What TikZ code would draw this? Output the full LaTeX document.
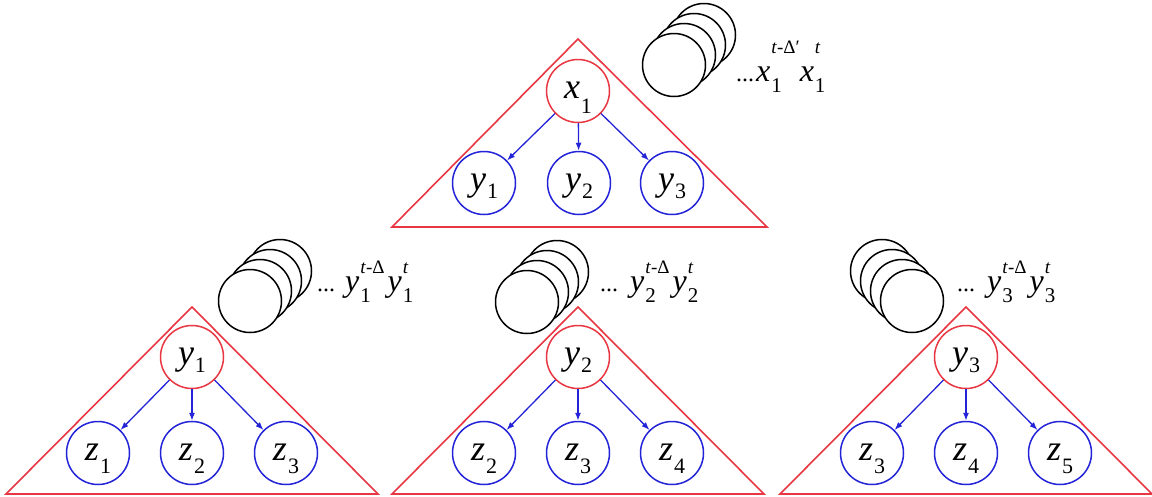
\documentclass[tikz,border=0pt]{standalone}
\usepackage{fontspec}
\setmainfont{Liberation Serif}
\usetikzlibrary{arrows.meta}
\definecolor{treered}{RGB}{232,55,66}
\definecolor{leafblue}{RGB}{35,35,215}
% variable with subscript, inside a circle
\newcommand{\nvar}[3]{\textit{#1}\kern1pt\raisebox{-#3}{\fontsize{22}{24}\selectfont #2}}
% variable with subscript and superscript, beside a history stack
\newcommand{\hvar}[4][18pt]{\textit{#2}\kern1pt\rlap{\raisebox{-11pt}{\fontsize{21}{23}\selectfont #3}}\raisebox{#1}{\fontsize{19}{21}\selectfont #4}}
\newcommand{\hdots}{{\fontsize{24}{26}\selectfont ...}}
\tikzset{
  >=Latex,
  edgearrow/.style={-{Latex[length=8pt,width=6pt]},draw=leafblue,line width=1.3pt},
  rootnode/.style={circle,draw=treered,line width=1.5pt,minimum size=63pt,inner sep=0pt,
    text height=14pt,text depth=0pt,font=\fontsize{36}{40}\selectfont},
  leafnode/.style={rootnode,draw=leafblue},
  histnode/.style={circle,draw=black,fill=white,line width=1.5pt,minimum size=63pt,inner sep=0pt},
  treeedge/.style={draw=treered,line width=1.6pt},
  histlabel/.style={anchor=base west,inner sep=0pt,font=\fontsize{32}{36}\selectfont}
}
\begin{document}
\begin{tikzpicture}[x=1pt,y=-1pt]
    \useasboundingbox (0,0) rectangle (1152,496);
    % upper tree
    \draw[treeedge] (578,39) -- (392,227) -- (767,227) -- cycle;
    \node[rootnode] (x1) at (578,91) {\nvar{x}{1}{15pt}};
    \foreach \x/\i in {484/1,579/2,672/3} {
        \node[leafnode] (y\i) at (\x,183) {\nvar{y}{\i}{8pt}};
        \draw[edgearrow] (x1) -- (y\i);
    }
    % lower trees
    \foreach \cx/\r in {192/1,578/2,966/3} {
        \draw[treeedge] (\cx,307) -- ({\cx-186},494) -- ({\cx+186},494) -- cycle;
        \node[rootnode] (r\r) at (\cx,357) {\nvar{y}{\r}{8pt}};
        \foreach \dx/\k in {-94/0,0/1,94/2} {
            \pgfmathtruncatemacro{\leaf}{\r+\k}
            \node[leafnode] (l\r\k) at ({\cx+\dx},453) {\nvar{z}{\leaf}{13pt}};
            \draw[edgearrow] (r\r) -- (l\r\k);
        }
    }
    % history stacks
    \foreach \sx/\sy/\dir/\s in {674/65/1/x,250/301/1/a,527/302/1/b,912/301/-1/c}
        \foreach \i in {3,2,1,0}
            \node[histnode] (h\s\i) at ({\sx+\dir*10*\i},{\sy-10*\i}) {};
    \node[histlabel] (tx) at (736,81) {\hdots\kern2pt\hvar[28pt]{x}{1}{\textit{t}-Δ′}\hvar[28pt]{x}{1}{\textit{t}}};
    \node[histlabel] (ta) at (317,291) {\hdots\kern10pt\hvar{y}{1}{\textit{t}-Δ}\kern3pt\hvar{y}{1}{\textit{t}}};
    \node[histlabel] (tb) at (600,291) {\hdots\kern12pt\hvar{y}{2}{\textit{t}-Δ}\kern3pt\hvar{y}{2}{\textit{t}}};
    \node[histlabel] (tc) at (957,291) {\hdots\kern12pt\hvar{y}{3}{\textit{t}-Δ}\kern3pt\hvar{y}{3}{\textit{t}}};
\end{tikzpicture}
\end{document}
